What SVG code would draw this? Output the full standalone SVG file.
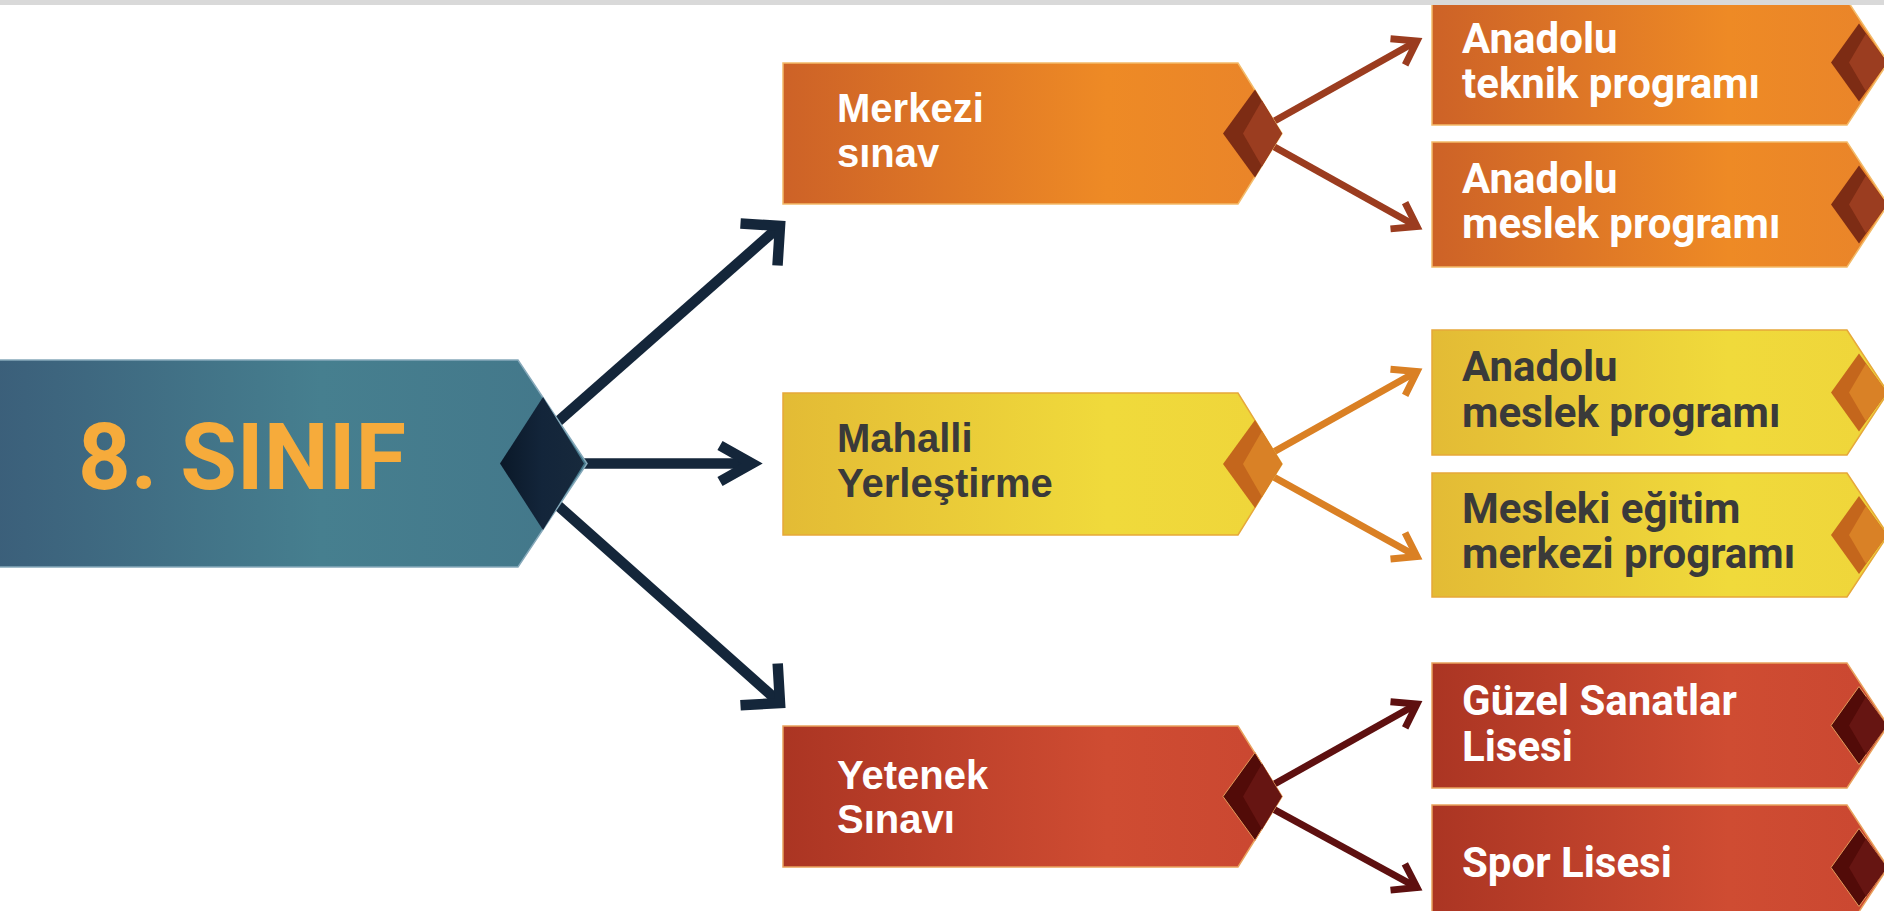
<svg xmlns="http://www.w3.org/2000/svg" width="1884" height="911" viewBox="0 0 1884 911">
  <defs>
    <style>
      .title { font-family: Roboto, "Liberation Sans", sans-serif; font-weight: 700; font-size: 92px; fill: #f6ab3b; text-anchor: middle; }
      .tmid { font-family: "Liberation Sans", Arial, sans-serif; font-weight: 700; font-size: 40px; }
      .tright { font-family: Roboto, "Liberation Sans", sans-serif; font-weight: 700; font-size: 42px; }
      .white { fill: #ffffff; }
      .dark { fill: #3a3a3a; }
      .box-main { fill: url(#gMain); stroke: #86a9ba; stroke-width: 1.5; }
      .box-orange { fill: url(#gOrange); stroke: #f3bb6a; stroke-width: 1.5; }
      .box-yellow { fill: url(#gYellow); stroke: #e6a83a; stroke-width: 1.5; }
      .box-red { fill: url(#gRed); stroke: #e9a25e; stroke-width: 1.5; }
      .dm-o1 { fill: #7d2c14; }
      .dm-o2 { fill: #9b3d20; }
      .dm-y1 { fill: #c4661c; }
      .dm-y2 { fill: #d98126; }
      .dm-r1 { fill: #520b08; stroke: #e39a5a; stroke-width: 1; }
      .dm-r2 { fill: #661512; }
      .c-main { fill: none; stroke: #14263a; stroke-width: 10.5; }
      .c-orange { fill: none; stroke: #9b3c1f; stroke-width: 7; }
      .c-yellow { fill: none; stroke: #da8024; stroke-width: 7; }
      .c-red { fill: none; stroke: #5e1010; stroke-width: 7; }
    </style>
    <linearGradient id="gMain" x1="0" y1="0" x2="1" y2="0">
      <stop offset="0" stop-color="#3b5f7a"/>
      <stop offset="0.55" stop-color="#467f8f"/>
      <stop offset="1" stop-color="#43778a"/>
    </linearGradient>
    <linearGradient id="gNavy" x1="0" y1="0" x2="1" y2="0">
      <stop offset="0" stop-color="#0a1828"/>
      <stop offset="0.5" stop-color="#13253a"/>
      <stop offset="1" stop-color="#17293c"/>
    </linearGradient>
    <linearGradient id="gOrange" x1="0" y1="0" x2="1" y2="0">
      <stop offset="0" stop-color="#cd6227"/>
      <stop offset="0.65" stop-color="#ee8a25"/>
      <stop offset="1" stop-color="#e9842a"/>
    </linearGradient>
    <linearGradient id="gYellow" x1="0" y1="0" x2="1" y2="0">
      <stop offset="0" stop-color="#e3bb35"/>
      <stop offset="0.65" stop-color="#f0da3b"/>
      <stop offset="1" stop-color="#efd53a"/>
    </linearGradient>
    <linearGradient id="gRed" x1="0" y1="0" x2="1" y2="0">
      <stop offset="0" stop-color="#ab3523"/>
      <stop offset="0.65" stop-color="#cf4c32"/>
      <stop offset="1" stop-color="#ca4731"/>
    </linearGradient>
    <marker id="hMainDiag" markerUnits="userSpaceOnUse" orient="auto" viewBox="-40 -40 60 80" markerWidth="60" markerHeight="80" refX="0" refY="0" overflow="visible">
      <path d="M-28,-28 L0,0 L-28,28" fill="none" stroke="#14263a" stroke-width="10.5"/>
    </marker>
    <marker id="hMainMid" markerUnits="userSpaceOnUse" orient="auto" viewBox="-40 -40 60 80" markerWidth="60" markerHeight="80" refX="0" refY="0" overflow="visible">
      <path d="M-32,-18 L0,0 L-32,18" fill="none" stroke="#14263a" stroke-width="10.5"/>
    </marker>
    <marker id="hOrange" markerUnits="userSpaceOnUse" orient="auto" viewBox="-30 -30 40 60" markerWidth="40" markerHeight="60" refX="0" refY="0" overflow="visible">
      <path d="M-22,-15 L0,0 L-22,15" fill="none" stroke="#9b3c1f" stroke-width="7"/>
    </marker>
    <marker id="hYellow" markerUnits="userSpaceOnUse" orient="auto" viewBox="-30 -30 40 60" markerWidth="40" markerHeight="60" refX="0" refY="0" overflow="visible">
      <path d="M-22,-15 L0,0 L-22,15" fill="none" stroke="#da8024" stroke-width="7"/>
    </marker>
    <marker id="hRed" markerUnits="userSpaceOnUse" orient="auto" viewBox="-30 -30 40 60" markerWidth="40" markerHeight="60" refX="0" refY="0" overflow="visible">
      <path d="M-22,-15 L0,0 L-22,15" fill="none" stroke="#5e1010" stroke-width="7"/>
    </marker>
  </defs>

  <rect x="0" y="0" width="1884" height="911" fill="#ffffff"/>

  <g id="connectors">
    <path class="c-main" d="M545,433 L780,226" marker-end="url(#hMainDiag)"/>
    <path class="c-main" d="M541,463.5 L752,463.5" marker-end="url(#hMainMid)"/>
    <path class="c-main" d="M545,494 L780,703" marker-end="url(#hMainDiag)"/>

    <path class="c-orange" d="M1262,128 L1417,41" marker-end="url(#hOrange)"/>
    <path class="c-orange" d="M1262,140 L1417,226.5" marker-end="url(#hOrange)"/>

    <path class="c-yellow" d="M1262,458.5 L1417,371.5" marker-end="url(#hYellow)"/>
    <path class="c-yellow" d="M1262,470.5 L1417,556.5" marker-end="url(#hYellow)"/>

    <path class="c-red" d="M1262,791 L1417,704" marker-end="url(#hRed)"/>
    <path class="c-red" d="M1262,803 L1417,887.5" marker-end="url(#hRed)"/>
  </g>

  <g id="node-8-sinif">
    <polygon class="box-main" points="-5,360 518,360 587,463.5 518,567 -5,567"/>
    <polygon points="500,463.5 543,397 584,463.5 543,530" fill="url(#gNavy)"/>
    <text class="title" x="242" y="489">8. SINIF</text>
  </g>

  <g id="node-merkezi-sinav">
    <polygon class="box-orange" points="783,63 1238,63 1282,133.5 1238,204 783,204"/>
    <polygon class="dm-o1" points="1223,133.5 1255,89.5 1282,133.5 1255,177.5"/>
    <polygon class="dm-o2" points="1243,133.5 1262,100.5 1282,133.5 1262,166.5"/>
    <text class="tmid white" x="837" y="122">Merkezi</text>
    <text class="tmid white" x="837" y="167">sınav</text>
  </g>

  <g id="node-mahalli-yerlestirme">
    <polygon class="box-yellow" points="783,393 1238,393 1282,464 1238,535 783,535"/>
    <polygon class="dm-y1" points="1223,464 1255,420 1282,464 1255,508"/>
    <polygon class="dm-y2" points="1243,464 1262,431 1282,464 1262,497"/>
    <text class="tmid dark" x="837" y="452">Mahalli</text>
    <text class="tmid dark" x="837" y="497">Yerleştirme</text>
  </g>

  <g id="node-yetenek-sinavi">
    <polygon class="box-red" points="783,726 1238,726 1282,796.5 1238,867 783,867"/>
    <polygon class="dm-r1" points="1223,796.5 1255,752.5 1282,796.5 1255,840.5"/>
    <polygon class="dm-r2" points="1243,796.5 1262,763.5 1282,796.5 1262,829.5"/>
    <text class="tmid white" x="837" y="789">Yetenek</text>
    <text class="tmid white" x="837" y="833">Sınavı</text>
  </g>

  <g id="node-anadolu-teknik">
    <polygon class="box-orange" points="1432,0 1847,0 1888,62.5 1847,125 1432,125"/>
    <polygon class="dm-o1" points="1831,62.5 1859,23.5 1887,62.5 1859,101.5"/>
    <polygon class="dm-o2" points="1849,62.5 1866,33.5 1887,62.5 1866,91.5"/>
    <text class="tright white" x="1462" y="53">Anadolu</text>
    <text class="tright white" x="1462" y="98">teknik programı</text>
  </g>

  <g id="node-anadolu-meslek-1">
    <polygon class="box-orange" points="1432,142 1847,142 1888,204.5 1847,267 1432,267"/>
    <polygon class="dm-o1" points="1831,204.5 1859,165.5 1887,204.5 1859,243.5"/>
    <polygon class="dm-o2" points="1849,204.5 1866,175.5 1887,204.5 1866,233.5"/>
    <text class="tright white" x="1462" y="193">Anadolu</text>
    <text class="tright white" x="1462" y="238">meslek programı</text>
  </g>

  <g id="node-anadolu-meslek-2">
    <polygon class="box-yellow" points="1432,330 1847,330 1888,392.5 1847,455 1432,455"/>
    <polygon class="dm-y1" points="1831,392.5 1859,353.5 1887,392.5 1859,431.5"/>
    <polygon class="dm-y2" points="1849,392.5 1866,363.5 1887,392.5 1866,421.5"/>
    <text class="tright dark" x="1462" y="381">Anadolu</text>
    <text class="tright dark" x="1462" y="427">meslek programı</text>
  </g>

  <g id="node-mesleki-egitim">
    <polygon class="box-yellow" points="1432,473 1847,473 1888,535 1847,597 1432,597"/>
    <polygon class="dm-y1" points="1831,535 1859,496 1887,535 1859,574"/>
    <polygon class="dm-y2" points="1849,535 1866,506 1887,535 1866,564"/>
    <text class="tright dark" x="1462" y="523">Mesleki eğitim</text>
    <text class="tright dark" x="1462" y="568">merkezi programı</text>
  </g>

  <g id="node-guzel-sanatlar">
    <polygon class="box-red" points="1432,663 1847,663 1888,725.5 1847,788 1432,788"/>
    <polygon class="dm-r1" points="1831,725.5 1859,686.5 1887,725.5 1859,764.5"/>
    <polygon class="dm-r2" points="1849,725.5 1866,696.5 1887,725.5 1866,754.5"/>
    <text class="tright white" x="1462" y="715">Güzel Sanatlar</text>
    <text class="tright white" x="1462" y="761">Lisesi</text>
  </g>

  <g id="node-spor-lisesi">
    <polygon class="box-red" points="1432,805 1847,805 1888,867.5 1847,930 1432,930"/>
    <polygon class="dm-r1" points="1831,867.5 1859,828.5 1887,867.5 1859,906.5"/>
    <polygon class="dm-r2" points="1849,867.5 1866,838.5 1887,867.5 1866,896.5"/>
    <text class="tright white" x="1462" y="877">Spor Lisesi</text>
  </g>

  <rect x="0" y="0" width="1884" height="5" fill="#d9d9d9"/>
</svg>
